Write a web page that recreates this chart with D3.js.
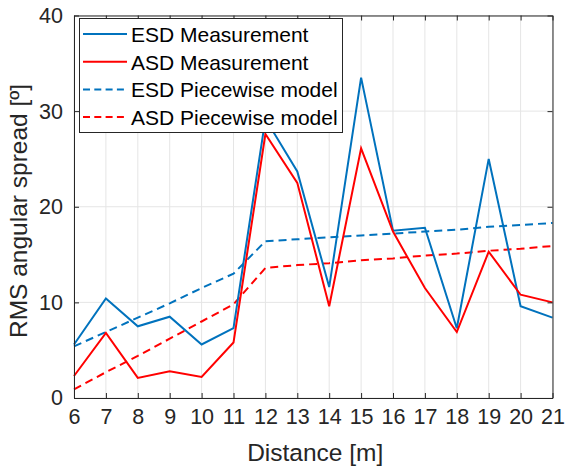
<!DOCTYPE html>
<html>
<head>
<meta charset="utf-8">
<script src="https://cdn.jsdelivr.net/npm/d3@7"></script>
<style>
  html, body { margin: 0; padding: 0; background: #fff; }
  svg { display: block; font-family: "Liberation Sans", Arial, sans-serif; }
</style>
</head>
<body>
<svg id="chart" width="565" height="468"></svg>
<script>
// Distance in metres
const distances = [6, 7, 8, 9, 10, 11, 12, 13, 14, 15, 16, 17, 18, 19, 20, 21];

// Measured RMS spreads (degrees)
const esdMeasured = [5.6, 10.4, 7.5, 8.5, 5.6, 7.3, 29.2, 23.7, 11.6, 33.5, 17.5, 17.8, 7.3, 25.0, 9.6, 8.4];
const asdMeasured = [2.3, 6.8, 2.1, 2.8, 2.2, 5.8, 27.6, 22.5, 9.6, 26.1, 17.4, 11.5, 6.9, 15.3, 10.8, 10.0];

// Piecewise model evaluated at each distance
const esdModel = [5.4, 6.9, 8.4, 9.9, 11.5, 13.0, 16.4, 16.6, 16.8, 17.0, 17.2, 17.4, 17.6, 17.9, 18.1, 18.3];
const asdModel = [0.9, 2.7, 4.4, 6.2, 8.0, 9.8, 13.6, 13.9, 14.1, 14.4, 14.6, 14.9, 15.1, 15.4, 15.6, 15.9];

const xTicks = [6, 7, 8, 9, 10, 11, 12, 13, 14, 15, 16, 17, 18, 19, 20, 21];
const yTicks = [0, 10, 20, 30, 40];

const seriesNames = ["ESD Measurement", "ASD Measurement", "ESD Piecewise model", "ASD Piecewise model"];

const BLUE = "#0072BD", RED = "#FF0000", AXIS = "#262626";

const svg = d3.select("#chart");
const W = 565, H = 468;
const m = { left: 74, right: 12.5, top: 15.5, bottom: 70 };
const pw = W - m.left - m.right, ph = H - m.top - m.bottom;

const x = d3.scaleLinear().domain([6, 21]).range([m.left, m.left + pw]);
const y = d3.scaleLinear().domain([0, 40]).range([m.top + ph, m.top]);

// grid
const grid = svg.append("g");
grid.selectAll("line.vx").data(xTicks).join("line")
  .attr("x1", d => x(d)).attr("x2", d => x(d))
  .attr("y1", m.top).attr("y2", m.top + ph)
  .attr("stroke", "#e5e5e5").attr("stroke-width", 1);
grid.selectAll("line.hy").data(yTicks).join("line")
  .attr("x1", m.left).attr("x2", m.left + pw)
  .attr("y1", d => y(d)).attr("y2", d => y(d))
  .attr("stroke", "#e5e5e5").attr("stroke-width", 1);

// data lines
const series = [
  { vals: esdMeasured, color: BLUE, dash: null },
  { vals: asdMeasured, color: RED, dash: null },
  { vals: esdModel, color: BLUE, dash: "8,5" },
  { vals: asdModel, color: RED, dash: "8,5" }
];
const line = d3.line().x(d => x(d[0])).y(d => y(d[1]));
// draw the model lines first, then the measurements
[2, 3, 0, 1].forEach(i => {
  const s = series[i];
  svg.append("path")
    .datum(distances.map((d, k) => [d, s.vals[k]]))
    .attr("d", line)
    .attr("fill", "none")
    .attr("stroke", s.color)
    .attr("stroke-width", 2)
    .attr("stroke-linejoin", "miter")
    .attr("stroke-dasharray", s.dash);
});

// axes (ticks pointing inward, box on)
const tickFont = "21.5px";
const xAxis = d3.axisBottom(x).tickValues(xTicks).tickFormat(d3.format("d")).tickSizeInner(-5).tickSizeOuter(0).tickPadding(11);
const yAxis = d3.axisLeft(y).tickValues(yTicks).tickFormat(d3.format("d")).tickSizeInner(-5).tickSizeOuter(0).tickPadding(11);
const xTop = d3.axisTop(x).tickValues(xTicks).tickFormat("").tickSizeInner(-5).tickSizeOuter(0);
const yRight = d3.axisRight(y).tickValues(yTicks).tickFormat("").tickSizeInner(-5).tickSizeOuter(0);

function styleAxis(g) {
  g.selectAll("path.domain").attr("stroke", AXIS).attr("stroke-width", 1);
  g.selectAll(".tick line").attr("stroke", AXIS).attr("stroke-width", 1);
  g.selectAll(".tick text").attr("fill", AXIS).style("font-size", tickFont)
    .style("font-family", "'Liberation Sans', Arial, sans-serif");
}
svg.append("g").attr("transform", `translate(0,${m.top + ph})`).call(xAxis).call(styleAxis);
svg.append("g").attr("transform", `translate(${m.left},0)`).call(yAxis).call(styleAxis);
svg.append("g").attr("transform", `translate(0,${m.top})`).call(xTop).call(styleAxis);
svg.append("g").attr("transform", `translate(${m.left + pw},0)`).call(yRight).call(styleAxis);

// axis labels
svg.append("text")
  .attr("x", m.left + pw / 2 + 2).attr("y", 461)
  .attr("text-anchor", "middle")
  .attr("fill", AXIS).style("font-size", "24.5px")
  .text("Distance [m]");
svg.append("text")
  .attr("transform", `translate(26.5,211) rotate(-90)`)
  .attr("text-anchor", "middle")
  .attr("fill", AXIS).style("font-size", "24.5px")
  .text("RMS angular spread [º]");

// legend
const lg = svg.append("g");
lg.append("rect")
  .attr("x", 79.5).attr("y", 18.5).attr("width", 263).attr("height", 114)
  .attr("fill", "#fff").attr("stroke", AXIS).attr("stroke-width", 1);
seriesNames.forEach((name, i) => {
  const cy = 34 + i * 27.7;
  lg.append("line")
    .attr("x1", 83).attr("x2", 127).attr("y1", cy).attr("y2", cy)
    .attr("stroke", series[i].color).attr("stroke-width", 2)
    .attr("stroke-dasharray", series[i].dash ? "7,4.3" : null);
  lg.append("text")
    .attr("x", 131).attr("y", cy + 8)
    .attr("fill", "#000").style("font-size", "21px")
    .text(name);
});
</script>
</body>
</html>
